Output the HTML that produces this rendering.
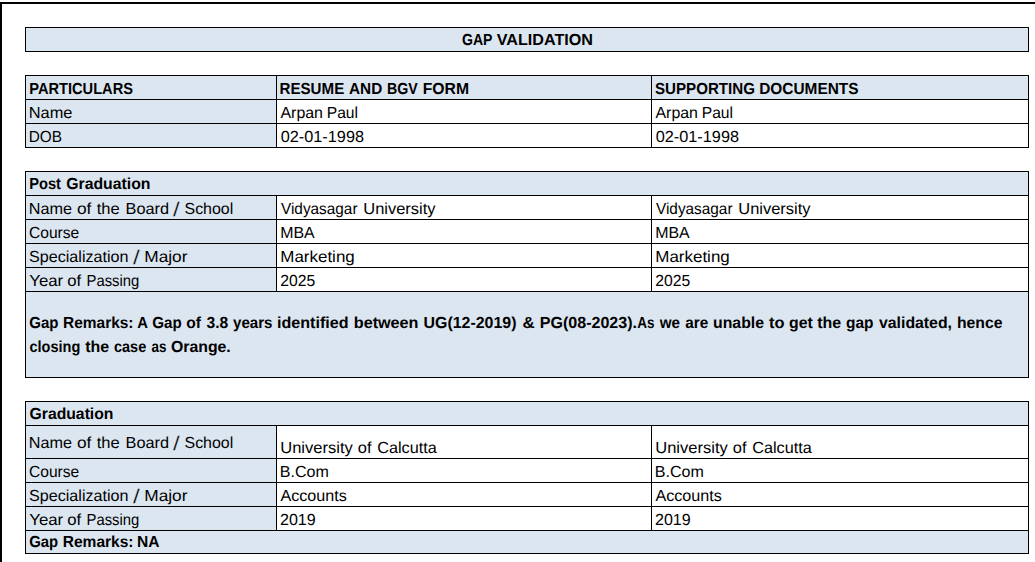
<!DOCTYPE html><html><head><meta charset="utf-8"><title>Gap Validation</title><style>html,body{margin:0;padding:0;background:#fff;width:1035px;height:562px;overflow:hidden}svg{display:block}</style></head><body>
<svg width="1035" height="562" viewBox="0 0 1035 562" font-family='"Liberation Sans", Arial, sans-serif' font-size="16" fill="#000" text-rendering="geometricPrecision">
<g shape-rendering="crispEdges">
<rect x="25" y="27" width="1004" height="25" fill="#dce6f1"/>
<rect x="25" y="75" width="1004" height="25" fill="#dce6f1"/>
<rect x="25" y="99" width="251" height="49" fill="#dce6f1"/>
<rect x="25" y="171" width="1004" height="25" fill="#dce6f1"/>
<rect x="25" y="195" width="251" height="97" fill="#dce6f1"/>
<rect x="25" y="291" width="1004" height="87" fill="#dce6f1"/>
<rect x="25" y="401" width="1004" height="25" fill="#dce6f1"/>
<rect x="25" y="425" width="251" height="106" fill="#dce6f1"/>
<rect x="25" y="530" width="1004" height="24" fill="#dce6f1"/>
<g fill="#000">
<rect x="0" y="2" width="1035" height="2"/>
<rect x="0" y="2" width="2" height="560"/>
<rect x="25" y="27" width="1004" height="1"/>
<rect x="25" y="51" width="1004" height="1"/>
<rect x="25" y="27" width="1" height="25"/>
<rect x="1028" y="27" width="1" height="25"/>
<rect x="25" y="75" width="1004" height="1"/>
<rect x="25" y="99" width="1004" height="1"/>
<rect x="25" y="123" width="1004" height="1"/>
<rect x="25" y="147" width="1004" height="1"/>
<rect x="25" y="75" width="1" height="73"/>
<rect x="276" y="75" width="1" height="73"/>
<rect x="651" y="75" width="1" height="73"/>
<rect x="1028" y="75" width="1" height="73"/>
<rect x="25" y="171" width="1004" height="1"/>
<rect x="25" y="195" width="1004" height="1"/>
<rect x="25" y="219" width="1004" height="1"/>
<rect x="25" y="243" width="1004" height="1"/>
<rect x="25" y="267" width="1004" height="1"/>
<rect x="25" y="291" width="1004" height="1"/>
<rect x="25" y="377" width="1004" height="1"/>
<rect x="25" y="171" width="1" height="207"/>
<rect x="1028" y="171" width="1" height="207"/>
<rect x="276" y="195" width="1" height="97"/>
<rect x="651" y="195" width="1" height="97"/>
<rect x="25" y="401" width="1004" height="1"/>
<rect x="25" y="425" width="1004" height="1"/>
<rect x="25" y="458" width="1004" height="1"/>
<rect x="25" y="482" width="1004" height="1"/>
<rect x="25" y="506" width="1004" height="1"/>
<rect x="25" y="530" width="1004" height="1"/>
<rect x="25" y="553" width="1004" height="1"/>
<rect x="25" y="401" width="1" height="153"/>
<rect x="1028" y="401" width="1" height="153"/>
<rect x="276" y="425" width="1" height="106"/>
<rect x="651" y="425" width="1" height="106"/>
</g></g>
<g>
<text font-weight="bold"><tspan x="462.00" y="45" textLength="30.22" lengthAdjust="spacingAndGlyphs">GAP</tspan> <tspan x="496.75" y="45" textLength="96.24" lengthAdjust="spacingAndGlyphs">VALIDATION</tspan></text>
<text font-weight="bold"><tspan x="29.25" y="94" textLength="103.74" lengthAdjust="spacingAndGlyphs">PARTICULARS</tspan></text>
<text font-weight="bold"><tspan x="279.50" y="94" textLength="64.74" lengthAdjust="spacingAndGlyphs">RESUME</tspan> <tspan x="349.00" y="94" textLength="33.22" lengthAdjust="spacingAndGlyphs">AND</tspan> <tspan x="387.00" y="94" textLength="30.72" lengthAdjust="spacingAndGlyphs">BGV</tspan> <tspan x="422.75" y="94" textLength="46.26" lengthAdjust="spacingAndGlyphs">FORM</tspan></text>
<text font-weight="bold"><tspan x="655.00" y="94" textLength="99.99" lengthAdjust="spacingAndGlyphs">SUPPORTING</tspan> <tspan x="759.25" y="94" textLength="99.24" lengthAdjust="spacingAndGlyphs">DOCUMENTS</tspan></text>
<text><tspan x="28.75" y="118" textLength="43.75" lengthAdjust="spacingAndGlyphs">Name</tspan></text>
<text><tspan x="28.75" y="142" textLength="33.27" lengthAdjust="spacingAndGlyphs">DOB</tspan></text>
<text><tspan x="280.50" y="118" textLength="42.48" lengthAdjust="spacingAndGlyphs">Arpan</tspan> <tspan x="326.75" y="118" textLength="31.28" lengthAdjust="spacingAndGlyphs">Paul</tspan></text>
<text><tspan x="280.75" y="142" textLength="83.24" lengthAdjust="spacingAndGlyphs">02-01-1998</tspan></text>
<text><tspan x="655.50" y="118" textLength="42.48" lengthAdjust="spacingAndGlyphs">Arpan</tspan> <tspan x="701.75" y="118" textLength="31.28" lengthAdjust="spacingAndGlyphs">Paul</tspan></text>
<text><tspan x="655.75" y="142" textLength="83.24" lengthAdjust="spacingAndGlyphs">02-01-1998</tspan></text>
<text font-weight="bold"><tspan x="29.25" y="189" textLength="31.71" lengthAdjust="spacingAndGlyphs">Post</tspan> <tspan x="66.25" y="189" textLength="84.24" lengthAdjust="spacingAndGlyphs">Graduation</tspan></text>
<text><tspan x="28.75" y="214" textLength="43.25" lengthAdjust="spacingAndGlyphs">Name</tspan> <tspan x="77.00" y="214" textLength="14.43" lengthAdjust="spacingAndGlyphs">of</tspan> <tspan x="96.75" y="214" textLength="22.96" lengthAdjust="spacingAndGlyphs">the</tspan> <tspan x="125.50" y="214" textLength="43.53" lengthAdjust="spacingAndGlyphs">Board</tspan> <tspan x="173.00" y="216" font-size="20" stroke="#dce6f1" stroke-width="0.3" textLength="6.68" lengthAdjust="spacingAndGlyphs">/</tspan> <tspan x="184.50" y="214" textLength="48.75" lengthAdjust="spacingAndGlyphs">School</tspan></text>
<text><tspan x="29.00" y="238" textLength="50.24" lengthAdjust="spacingAndGlyphs">Course</tspan></text>
<text><tspan x="29.00" y="262" textLength="99.50" lengthAdjust="spacingAndGlyphs">Specialization</tspan> <tspan x="133.00" y="264" font-size="20" stroke="#dce6f1" stroke-width="0.3" textLength="6.77" lengthAdjust="spacingAndGlyphs">/</tspan> <tspan x="144.25" y="262" textLength="43.24" lengthAdjust="spacingAndGlyphs">Major</tspan></text>
<text><tspan x="29.25" y="286" textLength="33.97" lengthAdjust="spacingAndGlyphs">Year</tspan> <tspan x="67.25" y="286" textLength="13.93" lengthAdjust="spacingAndGlyphs">of</tspan> <tspan x="86.50" y="286" textLength="52.75" lengthAdjust="spacingAndGlyphs">Passing</tspan></text>
<text><tspan x="281.00" y="214" textLength="76.50" lengthAdjust="spacingAndGlyphs">Vidyasagar</tspan> <tspan x="363.25" y="214" textLength="72.24" lengthAdjust="spacingAndGlyphs">University</tspan></text>
<text><tspan x="280.25" y="238" textLength="34.48" lengthAdjust="spacingAndGlyphs">MBA</tspan></text>
<text><tspan x="280.25" y="262" textLength="74.52" lengthAdjust="spacingAndGlyphs">Marketing</tspan></text>
<text><tspan x="280.25" y="286" textLength="34.98" lengthAdjust="spacingAndGlyphs">2025</tspan></text>
<text><tspan x="656.00" y="214" textLength="76.50" lengthAdjust="spacingAndGlyphs">Vidyasagar</tspan> <tspan x="738.25" y="214" textLength="72.24" lengthAdjust="spacingAndGlyphs">University</tspan></text>
<text><tspan x="655.25" y="238" textLength="34.48" lengthAdjust="spacingAndGlyphs">MBA</tspan></text>
<text><tspan x="655.25" y="262" textLength="74.52" lengthAdjust="spacingAndGlyphs">Marketing</tspan></text>
<text><tspan x="655.25" y="286" textLength="34.98" lengthAdjust="spacingAndGlyphs">2025</tspan></text>
<text font-weight="bold"><tspan x="29.25" y="328" textLength="29.21" lengthAdjust="spacingAndGlyphs">Gap</tspan> <tspan x="63.00" y="328" textLength="70.52" lengthAdjust="spacingAndGlyphs">Remarks:</tspan> <tspan x="137.25" y="328" textLength="10.17" lengthAdjust="spacingAndGlyphs">A</tspan> <tspan x="152.25" y="328" textLength="29.47" lengthAdjust="spacingAndGlyphs">Gap</tspan> <tspan x="186.25" y="328" textLength="14.72" lengthAdjust="spacingAndGlyphs">of</tspan> <tspan x="206.50" y="328" textLength="21.70" lengthAdjust="spacingAndGlyphs">3.8</tspan> <tspan x="233.00" y="328" textLength="39.48" lengthAdjust="spacingAndGlyphs">years</tspan> <tspan x="277.00" y="328" textLength="71.51" lengthAdjust="spacingAndGlyphs">identified</tspan> <tspan x="353.75" y="328" textLength="64.75" lengthAdjust="spacingAndGlyphs">between</tspan> <tspan x="423.50" y="328" textLength="92.99" lengthAdjust="spacingAndGlyphs">UG(12-2019)</tspan> <tspan x="522.50" y="328" textLength="12.18" lengthAdjust="spacingAndGlyphs">&amp;</tspan> <tspan x="539.75" y="328" textLength="97.26" lengthAdjust="spacingAndGlyphs">PG(08-2023).</tspan><tspan x="637.25" y="328" textLength="17.20" lengthAdjust="spacingAndGlyphs">As</tspan> <tspan x="659.75" y="328" textLength="20.21" lengthAdjust="spacingAndGlyphs">we</tspan> <tspan x="685.25" y="328" textLength="22.96" lengthAdjust="spacingAndGlyphs">are</tspan> <tspan x="713.00" y="328" textLength="50.99" lengthAdjust="spacingAndGlyphs">unable</tspan> <tspan x="769.00" y="328" textLength="15.44" lengthAdjust="spacingAndGlyphs">to</tspan> <tspan x="789.00" y="328" textLength="23.72" lengthAdjust="spacingAndGlyphs">get</tspan> <tspan x="817.25" y="328" textLength="23.95" lengthAdjust="spacingAndGlyphs">the</tspan> <tspan x="846.00" y="328" textLength="27.48" lengthAdjust="spacingAndGlyphs">gap</tspan> <tspan x="879.00" y="328" textLength="72.99" lengthAdjust="spacingAndGlyphs">validated,</tspan> <tspan x="957.00" y="328" textLength="45.49" lengthAdjust="spacingAndGlyphs">hence</tspan></text>
<text font-weight="bold"><tspan x="29.50" y="352" textLength="50.74" lengthAdjust="spacingAndGlyphs">closing</tspan> <tspan x="85.25" y="352" textLength="23.96" lengthAdjust="spacingAndGlyphs">the</tspan> <tspan x="114.00" y="352" textLength="32.23" lengthAdjust="spacingAndGlyphs">case</tspan> <tspan x="151.50" y="352" textLength="14.93" lengthAdjust="spacingAndGlyphs">as</tspan> <tspan x="171.00" y="352" textLength="59.74" lengthAdjust="spacingAndGlyphs">Orange.</tspan></text>
<text font-weight="bold"><tspan x="29.50" y="419" textLength="83.99" lengthAdjust="spacingAndGlyphs">Graduation</tspan></text>
<text><tspan x="28.75" y="448" textLength="43.25" lengthAdjust="spacingAndGlyphs">Name</tspan> <tspan x="77.00" y="448" textLength="14.43" lengthAdjust="spacingAndGlyphs">of</tspan> <tspan x="96.75" y="448" textLength="22.96" lengthAdjust="spacingAndGlyphs">the</tspan> <tspan x="125.50" y="448" textLength="43.53" lengthAdjust="spacingAndGlyphs">Board</tspan> <tspan x="173.00" y="450" font-size="20" stroke="#dce6f1" stroke-width="0.3" textLength="6.68" lengthAdjust="spacingAndGlyphs">/</tspan> <tspan x="184.50" y="448" textLength="48.75" lengthAdjust="spacingAndGlyphs">School</tspan></text>
<text><tspan x="29.00" y="477" textLength="50.24" lengthAdjust="spacingAndGlyphs">Course</tspan></text>
<text><tspan x="29.00" y="501" textLength="99.50" lengthAdjust="spacingAndGlyphs">Specialization</tspan> <tspan x="133.00" y="503" font-size="20" stroke="#dce6f1" stroke-width="0.3" textLength="6.77" lengthAdjust="spacingAndGlyphs">/</tspan> <tspan x="144.25" y="501" textLength="43.24" lengthAdjust="spacingAndGlyphs">Major</tspan></text>
<text><tspan x="29.25" y="525" textLength="33.97" lengthAdjust="spacingAndGlyphs">Year</tspan> <tspan x="67.25" y="525" textLength="13.93" lengthAdjust="spacingAndGlyphs">of</tspan> <tspan x="86.50" y="525" textLength="52.75" lengthAdjust="spacingAndGlyphs">Passing</tspan></text>
<text><tspan x="280.25" y="453" textLength="72.49" lengthAdjust="spacingAndGlyphs">University</tspan> <tspan x="357.75" y="453" textLength="13.70" lengthAdjust="spacingAndGlyphs">of</tspan> <tspan x="377.25" y="453" textLength="59.49" lengthAdjust="spacingAndGlyphs">Calcutta</tspan></text>
<text><tspan x="279.75" y="477" textLength="49.03" lengthAdjust="spacingAndGlyphs">B.Com</tspan></text>
<text><tspan x="280.50" y="501" textLength="66.24" lengthAdjust="spacingAndGlyphs">Accounts</tspan></text>
<text><tspan x="280.00" y="525" textLength="35.73" lengthAdjust="spacingAndGlyphs">2019</tspan></text>
<text><tspan x="655.25" y="453" textLength="72.49" lengthAdjust="spacingAndGlyphs">University</tspan> <tspan x="732.75" y="453" textLength="13.70" lengthAdjust="spacingAndGlyphs">of</tspan> <tspan x="752.25" y="453" textLength="59.49" lengthAdjust="spacingAndGlyphs">Calcutta</tspan></text>
<text><tspan x="654.75" y="477" textLength="49.03" lengthAdjust="spacingAndGlyphs">B.Com</tspan></text>
<text><tspan x="655.50" y="501" textLength="66.24" lengthAdjust="spacingAndGlyphs">Accounts</tspan></text>
<text><tspan x="655.00" y="525" textLength="35.73" lengthAdjust="spacingAndGlyphs">2019</tspan></text>
<text font-weight="bold"><tspan x="29.25" y="547" textLength="28.97" lengthAdjust="spacingAndGlyphs">Gap</tspan> <tspan x="62.75" y="547" textLength="70.77" lengthAdjust="spacingAndGlyphs">Remarks:</tspan> <tspan x="137.00" y="547" textLength="22.46" lengthAdjust="spacingAndGlyphs">NA</tspan></text>
</g></svg></body></html>
